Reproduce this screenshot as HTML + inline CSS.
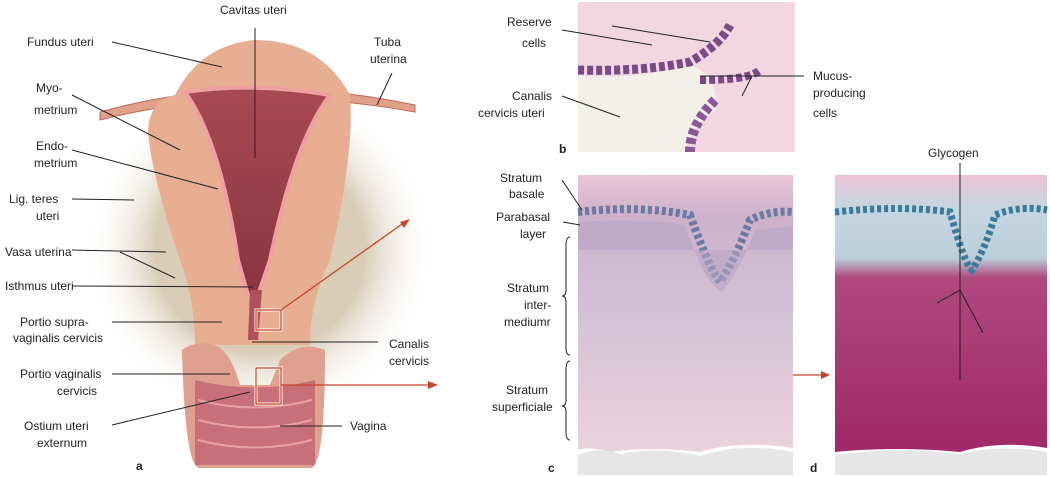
<!DOCTYPE html>
<html><head><meta charset="utf-8"><style>
body{margin:0;background:#fff;width:1050px;height:477px;overflow:hidden}
svg{display:block}
text{font-family:"Liberation Sans",sans-serif;font-size:12px;fill:#222}
</style></head><body>
<svg width="1050" height="477" viewBox="0 0 1050 477">
<defs>
<radialGradient id="bg" cx="0.5" cy="0.5" r="0.5"><stop offset="0.6" stop-color="#d9cdb8"/><stop offset="1" stop-color="#fff" stop-opacity="0"/></radialGradient>
<linearGradient id="cav" x1="0" y1="0" x2="0" y2="1"><stop offset="0" stop-color="#a84a52"/><stop offset="1" stop-color="#8a3440"/></linearGradient>
<linearGradient id="cg" x1="0" y1="0" x2="0" y2="1"><stop offset="0" stop-color="#ecc6d6"/><stop offset="0.15" stop-color="#cdb0cc"/><stop offset="0.55" stop-color="#d5c4d8"/><stop offset="0.8" stop-color="#e5cad8"/><stop offset="1" stop-color="#ead2dc"/></linearGradient>
<linearGradient id="dg" x1="0" y1="0" x2="0" y2="1"><stop offset="0" stop-color="#ecc4d4"/><stop offset="0.12" stop-color="#c4d6e0"/><stop offset="0.3" stop-color="#bcd0dc"/><stop offset="0.37" stop-color="#b04880"/><stop offset="1" stop-color="#a02868"/></linearGradient>
</defs>
<ellipse cx="260" cy="250" rx="175" ry="170" fill="url(#bg)"/>
<path d="M100,112 Q250,70 415,105 L415,112 Q250,82 100,120Z" fill="#e0a08a" stroke="#c06a5a"/>
<path d="M175,95 Q200,45 255,40 Q320,40 350,95 Q355,150 330,260 Q310,300 310,345 L195,345 Q195,300 180,260 Q150,170 148,130 Q150,100 175,95Z" fill="#e7ae92"/>
<path d="M185,92 Q255,82 330,95 Q295,140 270,260 L258,295 L248,295 L238,260 Q220,140 185,92Z" fill="url(#cav)" stroke="#f0a0a0" stroke-width="4"/>
<path d="M250,290 L262,290 L258,340 L248,340Z" fill="#b05058"/>
<path d="M182,350 Q185,470 200,468 L310,468 Q325,470 325,350 Q300,340 280,360 L270,385 L240,385 Q230,350 215,345 Q195,340 182,350Z" fill="#e0a090"/>
<path d="M195,380 Q255,395 315,380 L315,465 L195,465Z" fill="#c8707a"/>
<g stroke="#e8a0a0" stroke-width="2" fill="none"><path d="M198,400 Q255,415 312,400"/><path d="M198,420 Q255,435 312,420"/><path d="M198,440 Q255,455 312,440"/></g>
<g fill="none" stroke="#c8442a" stroke-width="1.3">
<rect x="256" y="310" width="25" height="20" stroke="#fff" stroke-width="3"/><rect x="256" y="310" width="25" height="20"/>
<rect x="256" y="368" width="25" height="36" stroke="#fff" stroke-width="3"/><rect x="256" y="368" width="25" height="36"/>
<line x1="281" y1="310" x2="405" y2="222"/><line x1="281" y1="385" x2="430" y2="385"/>
<line x1="793" y1="375" x2="822" y2="375"/>
</g>
<g fill="#c8442a"><path d="M410,219 L400,222 L404,228Z"/><path d="M438,385 L428,381 L428,389Z"/><path d="M830,375 L821,371 L821,379Z"/></g>
<g stroke="#222" stroke-width="1" fill="none">
<line x1="255" y1="28" x2="255" y2="158"/>
<line x1="112" y1="42" x2="222" y2="67"/>
<line x1="392" y1="73" x2="377" y2="105"/>
<line x1="72" y1="95" x2="180" y2="150"/>
<line x1="72" y1="150" x2="218" y2="189"/>
<line x1="72" y1="199" x2="134" y2="200"/>
<line x1="72" y1="250" x2="166" y2="252"/><line x1="120" y1="252" x2="175" y2="278"/>
<line x1="72" y1="286" x2="253" y2="287"/>
<line x1="112" y1="322" x2="222" y2="322"/>
<line x1="112" y1="374" x2="230" y2="374"/>
<line x1="112" y1="425" x2="250" y2="392"/>
<line x1="252" y1="342" x2="378" y2="342"/>
<line x1="280" y1="426" x2="342" y2="426"/>
</g>
<text x="220" y="14">Cavitas uteri</text>
<text x="27" y="46">Fundus uteri</text>
<text x="374" y="46">Tuba</text><text x="370" y="63">uterina</text>
<text x="36" y="92">Myo-</text><text x="34" y="114">metrium</text>
<text x="36" y="150">Endo-</text><text x="34" y="167">metrium</text>
<text x="9" y="203">Lig. teres</text><text x="36" y="220">uteri</text>
<text x="5" y="256">Vasa uterina</text>
<text x="5" y="290">Isthmus uteri</text>
<text x="20" y="326">Portio supra-</text><text x="13" y="342">vaginalis cervicis</text>
<text x="20" y="378">Portio vaginalis</text><text x="57" y="395">cervicis</text>
<text x="24" y="430">Ostium uteri</text><text x="37" y="447">externum</text>
<text x="389" y="348">Canalis</text><text x="389" y="365">cervicis</text>
<text x="350" y="430">Vagina</text>
<text x="136" y="470" font-weight="bold">a</text>
<rect x="578" y="2" width="217" height="150" fill="#f2d6e0"/>
<path d="M578,75 Q640,80 690,65 Q720,75 715,110 Q690,130 685,152 L578,152Z" fill="#f3f0ea"/>
<path d="M578,70 Q640,72 690,62 Q720,45 730,25" fill="none" stroke="#7a4a88" stroke-width="9" stroke-dasharray="6 3"/>
<path d="M700,80 Q750,80 760,70" fill="none" stroke="#7a4a88" stroke-width="8" stroke-dasharray="6 3"/>
<path d="M715,100 Q690,125 690,152" fill="none" stroke="#8a5898" stroke-width="10" stroke-dasharray="6 3"/>
<g stroke="#222" fill="none"><line x1="562" y1="30" x2="652" y2="45"/><line x1="612" y1="26" x2="710" y2="42"/><line x1="562" y1="96" x2="620" y2="117"/><line x1="700" y1="76" x2="804" y2="76"/><line x1="752" y1="76" x2="742" y2="96"/></g>
<text x="507" y="26">Reserve</text><text x="522" y="47">cells</text>
<text x="512" y="100">Canalis</text><text x="478" y="117">cervicis uteri</text>
<text x="813" y="80">Mucus-</text><text x="813" y="97">producing</text><text x="813" y="117">cells</text>
<text x="559" y="153" font-weight="bold">b</text>
<path d="M578,175 L793,175 L793,448 Q740,440 700,452 Q650,446 610,452 Q590,446 578,450Z" fill="url(#cg)"/>
<path d="M578,455 Q600,446 620,454 Q660,446 700,456 Q740,442 793,452 L793,475 L578,475Z" fill="#e6e6e6"/>
<path d="M578,212 Q640,205 690,215 Q710,270 720,282 Q735,260 750,220 Q770,210 793,212" fill="none" stroke="#6a7aa0" stroke-width="8" stroke-dasharray="4 3"/>
<path d="M578,222 Q640,218 685,225 Q705,285 722,292 Q740,270 755,230 L793,226 L793,250 L578,250Z" fill="#b8a4c4" opacity="0.6"/>
<g stroke="#222" fill="none"><line x1="562" y1="180" x2="582" y2="210"/><line x1="563" y1="222" x2="580" y2="225"/>
<path d="M570,237 Q566,237 566,246 L566,290 Q566,296 562,296 Q566,296 566,302 L566,348 Q566,355 570,355"/>
<path d="M570,361 Q566,361 566,370 L566,400 Q566,406 562,406 Q566,406 566,412 L566,432 Q566,440 570,440"/></g>
<text x="500" y="182">Stratum</text><text x="509" y="198">basale</text>
<text x="496" y="221">Parabasal</text><text x="520" y="238">layer</text>
<text x="507" y="292">Stratum</text><text x="524" y="309">inter-</text><text x="504" y="326">mediumr</text>
<text x="506" y="394">Stratum</text><text x="492" y="411">superficiale</text>
<text x="548" y="472" font-weight="bold">c</text>
<path d="M835,175 L1047,175 L1047,448 Q1000,440 960,452 Q900,446 835,452Z" fill="url(#dg)"/>
<path d="M835,455 Q900,446 960,454 Q1000,444 1047,452 L1047,475 L835,475Z" fill="#e6e6e6"/>
<path d="M835,212 Q900,205 950,212 Q965,265 972,270 Q985,250 995,215 Q1020,205 1047,210" fill="none" stroke="#3a7a9a" stroke-width="7" stroke-dasharray="4 3"/>
<g stroke="#222" fill="none"><line x1="960" y1="163" x2="960" y2="380"/><line x1="937" y1="303" x2="960" y2="290"/><line x1="960" y1="290" x2="983" y2="333"/></g>
<text x="928" y="157">Glycogen</text>
<text x="810" y="472" font-weight="bold">d</text>
</svg>
</body></html>
